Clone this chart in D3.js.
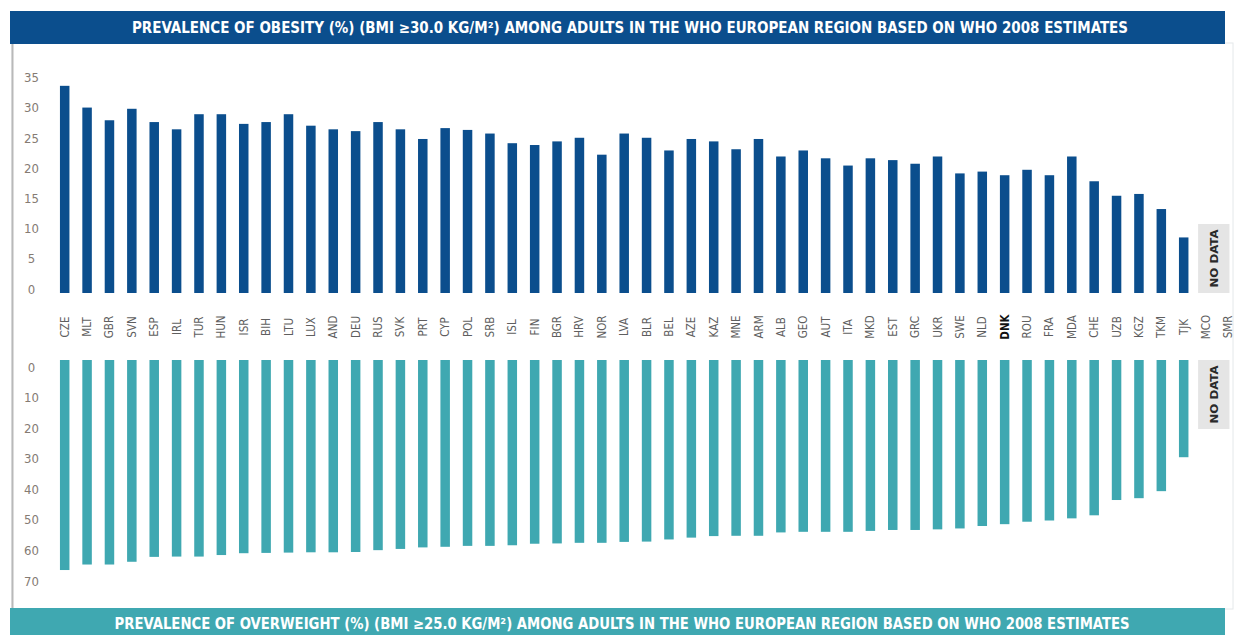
<!DOCTYPE html>
<html>
<head>
<meta charset="utf-8">
<script src="https://cdn.jsdelivr.net/npm/d3@7"></script>
<style>
  body { margin: 0; background: #fff; }
  svg { display: block; }
</style>
</head>
<body>
<div id="chart"></div>
<script>
const countries = ['CZE','MLT','GBR','SVN','ESP','IRL','TUR','HUN','ISR','BIH','LTU','LUX','AND','DEU','RUS','SVK','PRT','CYP','POL','SRB','ISL','FIN','BGR','HRV','NOR','LVA','BLR','BEL','AZE','KAZ','MNE','ARM','ALB','GEO','AUT','ITA','MKD','EST','GRC','UKR','SWE','NLD','DNK','ROU','FRA','MDA','CHE','UZB','KGZ','TKM','TJK','MCO','SMR'];
const noData = ['MCO','SMR'];
const highlight = 'DNK';

// obesity (%) BMI >= 30
const obesity = [34.3,30.7,28.6,30.5,28.3,27.1,29.6,29.6,28.0,28.3,29.6,27.7,27.1,26.8,28.3,27.1,25.5,27.3,27.0,26.4,24.8,24.5,25.1,25.7,22.9,26.4,25.7,23.6,25.5,25.1,23.8,25.5,22.6,23.6,22.3,21.1,22.3,22.0,21.4,22.6,19.8,20.1,19.5,20.4,19.5,22.6,18.5,16.1,16.4,13.9,9.2];
// overweight (%) BMI >= 25
const overweight = [68.7,66.9,66.9,66.0,64.4,64.3,64.3,63.8,63.2,63.1,63.0,62.9,62.9,62.8,62.2,61.8,61.3,61.1,60.8,60.8,60.6,60.1,60.0,59.8,59.8,59.5,59.4,58.7,58.1,57.6,57.5,57.5,56.4,56.2,56.2,56.2,55.9,55.6,55.6,55.4,55.1,54.3,53.7,52.9,52.5,51.8,50.8,45.8,45.2,42.9,31.8];

const obesityTicks = [0,5,10,15,20,25,30,35];
const overweightTicks = [0,10,20,30,40,50,60,70];

const titleTop = 'PREVALENCE OF OBESITY (%) (BMI \u226530.0 KG/M\u00B2) AMONG ADULTS IN THE WHO EUROPEAN REGION BASED ON WHO 2008 ESTIMATES';
const titleBottom = 'PREVALENCE OF OVERWEIGHT (%) (BMI \u226525.0 KG/M\u00B2) AMONG ADULTS IN THE WHO EUROPEAN REGION BASED ON WHO 2008 ESTIMATES';

const W = 1241, H = 635;
const blue = '#0b4e8d', teal = '#3fa8b1';
const condensed = '"Liberation Sans Narrow", "DejaVu Sans Condensed", "Roboto", sans-serif';

const svg = d3.select('#chart').append('svg')
  .attr('width', W)
  .attr('height', H);

// panel frame
svg.append('rect')
  .attr('x', 12).attr('y', 43)
  .attr('width', 1221).attr('height', 566)
  .attr('fill', 'none')
  .attr('stroke', '#e4e8ea')
  .attr('stroke-width', 1);
svg.append('line')
  .attr('x1', 12.5).attr('x2', 12.5)
  .attr('y1', 43).attr('y2', 609)
  .attr('stroke', '#b9b9b9')
  .attr('stroke-width', 2);

// title bars
svg.append('rect')
  .attr('x', 10).attr('y', 11)
  .attr('width', 1215).attr('height', 33)
  .attr('fill', blue);
svg.append('text')
  .attr('x', 630).attr('y', 28)
  .attr('text-anchor', 'middle')
  .attr('dominant-baseline', 'central')
  .attr('textLength', 996)
  .attr('lengthAdjust', 'spacingAndGlyphs')
  .style('font-family', condensed)
  .style('font-weight', 700)
  .style('font-size', '15px')
  .style('fill', '#fff')
  .text(titleTop);

svg.append('rect')
  .attr('x', 10).attr('y', 608)
  .attr('width', 1215).attr('height', 30)
  .attr('fill', teal);
svg.append('text')
  .attr('x', 622).attr('y', 624)
  .attr('text-anchor', 'middle')
  .attr('dominant-baseline', 'central')
  .attr('textLength', 1015)
  .attr('lengthAdjust', 'spacingAndGlyphs')
  .style('font-family', condensed)
  .style('font-weight', 700)
  .style('font-size', '15px')
  .style('fill', '#fff')
  .text(titleBottom);

// scales
const x = d3.scalePoint()
  .domain(countries)
  .range([64.7, 64.7 + 22.38 * (countries.length - 1)]);
const barW = 9.5;

const yTop = d3.scaleLinear().domain([0, 35]).range([293, 81.6]);
const yBot = d3.scaleLinear().domain([0, 70]).range([360, 574]);

// axes
const axTop = svg.append('g')
  .attr('transform', 'translate(31.5,0)')
  .call(d3.axisLeft(yTop).tickValues(obesityTicks).tickSize(0).tickPadding(0));
axTop.select('.domain').remove();
axTop.selectAll('text')
  .attr('x', 0).attr('dy', 0)
  .attr('text-anchor', 'middle')
  .style('font-family', condensed)
  .style('font-size', '13px')
  .style('fill', '#857b73');

const axBot = svg.append('g')
  .attr('transform', 'translate(31.5,0)')
  .call(d3.axisLeft(yBot).tickValues(overweightTicks).tickSize(0).tickPadding(0));
axBot.select('.domain').remove();
axBot.selectAll('text')
  .attr('x', 0).attr('dy', 11)
  .attr('text-anchor', 'middle')
  .style('font-family', condensed)
  .style('font-size', '13px')
  .style('fill', '#857b73');

const withData = countries.filter(c => !noData.includes(c));

// obesity bars
svg.append('g').selectAll('rect')
  .data(withData)
  .join('rect')
  .attr('x', d => x(d) - barW / 2)
  .attr('y', (d, i) => yTop(obesity[i]))
  .attr('width', barW)
  .attr('height', (d, i) => yTop(0) - yTop(obesity[i]))
  .attr('fill', blue);

// overweight bars
svg.append('g').selectAll('rect')
  .data(withData)
  .join('rect')
  .attr('x', d => x(d) - barW / 2)
  .attr('y', yBot(0))
  .attr('width', barW)
  .attr('height', (d, i) => yBot(overweight[i]) - yBot(0))
  .attr('fill', teal);

// country labels
svg.append('g').selectAll('text')
  .data(countries)
  .join('text')
  .attr('transform', d => `translate(${x(d)},327) rotate(-90)`)
  .attr('dy', '0.35em')
  .attr('text-anchor', 'middle')
  .style('font-family', condensed)
  .style('font-size', '11.5px')
  .style('font-weight', d => d === highlight ? 700 : 400)
  .style('fill', d => d === highlight ? '#111' : '#5f5f5f')
  .text(d => d);

// no data boxes
const boxX0 = x(noData[0]) - 8;
const boxX1 = x(noData[1]) + 1;
[[yTop(0) - 69, yTop(0)], [yBot(0), yBot(0) + 69]].forEach(([b0, b1]) => {
  svg.append('rect')
    .attr('x', boxX0).attr('y', b0)
    .attr('width', boxX1 - boxX0).attr('height', b1 - b0)
    .attr('fill', '#e5e5e5');
  svg.append('text')
    .attr('transform', `translate(${(boxX0 + boxX1) / 2},${(b0 + b1) / 2}) rotate(-90)`)
    .attr('dy', '0.35em')
    .attr('text-anchor', 'middle')
    .attr('textLength', 58)
    .attr('lengthAdjust', 'spacingAndGlyphs')
    .style('font-family', condensed)
    .style('font-weight', 700)
    .style('font-size', '11px')
    .style('fill', '#2a2a2a')
    .text('NO DATA');
});
</script>
</body>
</html>
